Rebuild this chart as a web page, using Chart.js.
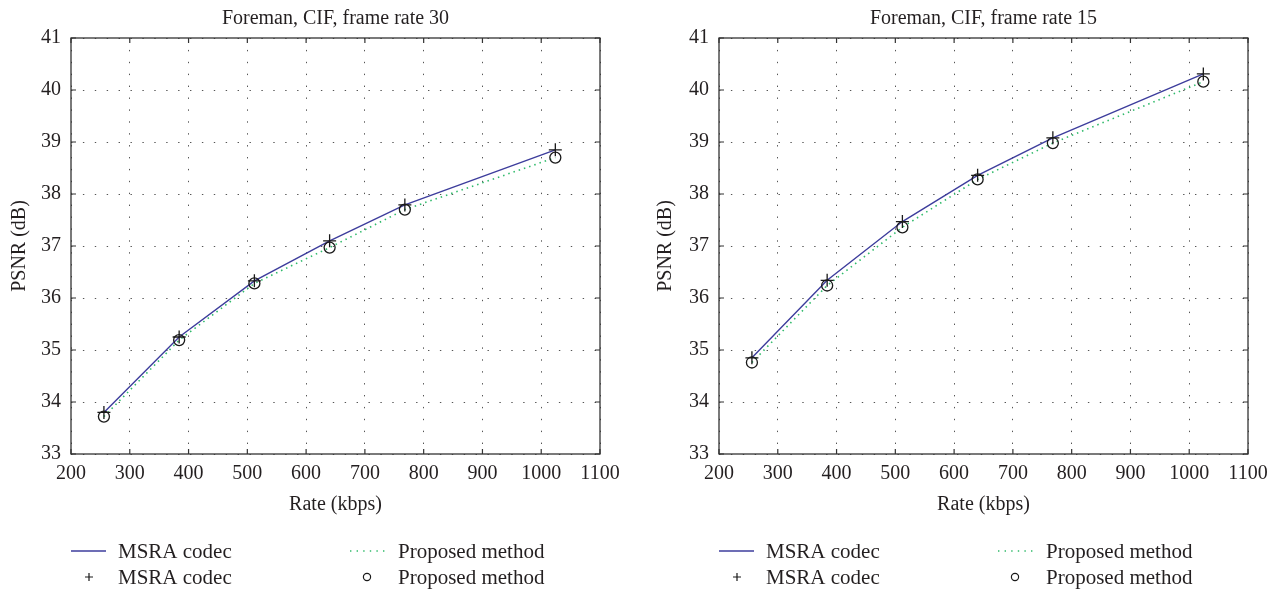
<!DOCTYPE html>
<html><head><meta charset="utf-8">
<script src="https://cdn.jsdelivr.net/npm/chart.js@4.4.1/dist/chart.umd.min.js"></script>
<style>
html,body{margin:0;padding:0;background:#fff;overflow:hidden;width:1285px;height:590px}
canvas{position:absolute;top:0}
</style>
</head><body>
<canvas id="cl" width="642" height="590" style="left:0"></canvas>
<canvas id="cr" width="643" height="590" style="left:642px"></canvas>
<script>
// ---- data ----
const rates = [256, 384, 512, 640, 768, 1024];
const msra30 = [33.80, 35.25, 36.33, 37.10, 37.79, 38.85];
const prop30 = [33.72, 35.19, 36.28, 36.97, 37.70, 38.70];
const msra15 = [34.85, 36.34, 37.47, 38.36, 39.08, 40.31];
const prop15 = [34.76, 36.24, 37.36, 38.28, 38.98, 40.16];
const titles = ['Foreman, CIF, frame rate 30', 'Foreman, CIF, frame rate 15'];
const seriesNames = ['MSRA codec', 'Proposed method'];
const xLabel = 'Rate (kbps)';
const yLabel = 'PSNR (dB)';
const xTickValues = [200, 300, 400, 500, 600, 700, 800, 900, 1000, 1100];
const yTickValues = [33, 34, 35, 36, 37, 38, 39, 40, 41];

// ---- style ----
const FONT = 'Liberation Serif';
const TXT = '#231f20';
const BLUE = '#3d3d9c';
const GREEN = '#2fba6a';
const MARK = '#1a1a1a';

const pts = (xs, ys) => xs.map((x, i) => ({x: x, y: ys[i]}));

const framePlugin = {
  id: 'frameTicks',
  afterDraw(chart) {
    const {ctx, chartArea: a, scales} = chart;
    const xs = scales.x, ys = scales.y;
    ctx.save();
    ctx.strokeStyle = '#333';
    ctx.lineWidth = 1.3;
    ctx.setLineDash([]);
    ctx.strokeRect(a.left, a.top, a.right - a.left, a.bottom - a.top);
    ctx.lineWidth = 1.2;
    ctx.beginPath();
    const L = 5;
    xTickValues.forEach(v => {
      const p = xs.getPixelForValue(v);
      ctx.moveTo(p, a.bottom); ctx.lineTo(p, a.bottom - L);
      ctx.moveTo(p, a.top); ctx.lineTo(p, a.top + L);
    });
    yTickValues.forEach(v => {
      const p = ys.getPixelForValue(v);
      ctx.moveTo(a.left, p); ctx.lineTo(a.left + L, p);
      ctx.moveTo(a.right, p); ctx.lineTo(a.right - L, p);
    });
    ctx.stroke();

    // legend (2 x 2 grid below the plot)
    const x0 = a.left;
    const r1 = 551, r2 = 577;
    ctx.font = '21px "' + FONT + '"';
    ctx.fillStyle = TXT;
    ctx.textBaseline = 'middle';
    ctx.textAlign = 'left';
    ctx.strokeStyle = BLUE; ctx.lineWidth = 1.6;
    ctx.beginPath(); ctx.moveTo(x0, r1); ctx.lineTo(x0 + 35, r1); ctx.stroke();
    ctx.fillText(seriesNames[0], x0 + 47, r1 + 1);
    ctx.strokeStyle = GREEN; ctx.lineWidth = 1.4; ctx.setLineDash([1.4, 5.2]);
    ctx.beginPath(); ctx.moveTo(x0 + 279, r1); ctx.lineTo(x0 + 314, r1); ctx.stroke();
    ctx.setLineDash([]);
    ctx.fillText(seriesNames[1], x0 + 327, r1 + 1);
    ctx.strokeStyle = MARK; ctx.lineWidth = 1.2;
    ctx.beginPath();
    ctx.moveTo(x0 + 18 - 4, r2); ctx.lineTo(x0 + 18 + 4, r2);
    ctx.moveTo(x0 + 18, r2 - 4); ctx.lineTo(x0 + 18, r2 + 4);
    ctx.stroke();
    ctx.fillText(seriesNames[0], x0 + 47, r2 + 1);
    ctx.beginPath(); ctx.arc(x0 + 296, r2, 3.6, 0, Math.PI * 2); ctx.stroke();
    ctx.fillText(seriesNames[1], x0 + 327, r2 + 1);
    ctx.restore();
  }
};

function makeChart(id, title, msra, prop, yWidth, padRight, yTitlePad) {
  return new Chart(document.getElementById(id), {
    type: 'scatter',
    data: {
      datasets: [
        {label: seriesNames[0], data: pts(rates, msra), showLine: true, borderColor: BLUE,
         borderWidth: 1.4, pointRadius: 0, order: 3},
        {label: seriesNames[1], data: pts(rates, prop), showLine: true, borderColor: GREEN,
         borderWidth: 1.6, borderDash: [1.5, 4], pointRadius: 0, order: 4},
        {label: seriesNames[0], data: pts(rates, msra), showLine: false, pointStyle: 'cross',
         pointRadius: 6.5, borderColor: MARK, pointBorderWidth: 1.3, order: 1},
        {label: seriesNames[1], data: pts(rates, prop), showLine: false, pointStyle: 'circle',
         pointRadius: 5.5, borderColor: MARK, backgroundColor: 'rgba(0,0,0,0)', pointBorderWidth: 1.3, order: 2}
      ]
    },
    options: {
      responsive: false,
      animation: false,
      devicePixelRatio: 1,
      layout: {padding: {left: 0, right: padRight, top: 0, bottom: 70}},
      plugins: {
        legend: {display: false},
        tooltip: {enabled: false},
        title: {display: true, text: title, fullSize: false, color: TXT,
                font: {family: FONT, size: 20, weight: 'normal', lineHeight: 1.2},
                padding: {top: 7, bottom: 7}}
      },
      scales: {
        x: {
          type: 'linear', min: 200, max: 1100,
          afterFit(s) { s.height = 66; },
          afterBuildTicks(s) { s.ticks = xTickValues.map(v => ({value: v})); },
          ticks: {color: TXT, padding: 8, font: {family: FONT, size: 20}, maxRotation: 0, autoSkip: false,
                  callback: v => String(v)},
          grid: {color: '#555', lineWidth: 1, drawTicks: false},
          border: {display: false, dash: [1.4, 10.5]},
          title: {display: true, text: xLabel, color: TXT, font: {family: FONT, size: 20}, padding: {top: 0, bottom: 3}}
        },
        y: {
          type: 'linear', min: 33, max: 41,
          afterFit(s) { s.width = yWidth; },
          afterBuildTicks(s) { s.ticks = yTickValues.map(v => ({value: v})); },
          ticks: {color: TXT, padding: 10, font: {family: FONT, size: 20}, callback: v => String(v)},
          grid: {color: '#555', lineWidth: 1, drawTicks: false},
          border: {display: false, dash: [1.4, 10.5]},
          title: {display: true, text: yLabel, color: TXT, font: {family: FONT, size: 20}, padding: {top: yTitlePad, bottom: 0}}
        }
      }
    },
    plugins: [framePlugin]
  });
}

makeChart('cl', titles[0], msra30, prop30, 71, 42, 8);
makeChart('cr', titles[1], msra15, prop15, 77, 37, 12);
</script>
</body></html>
